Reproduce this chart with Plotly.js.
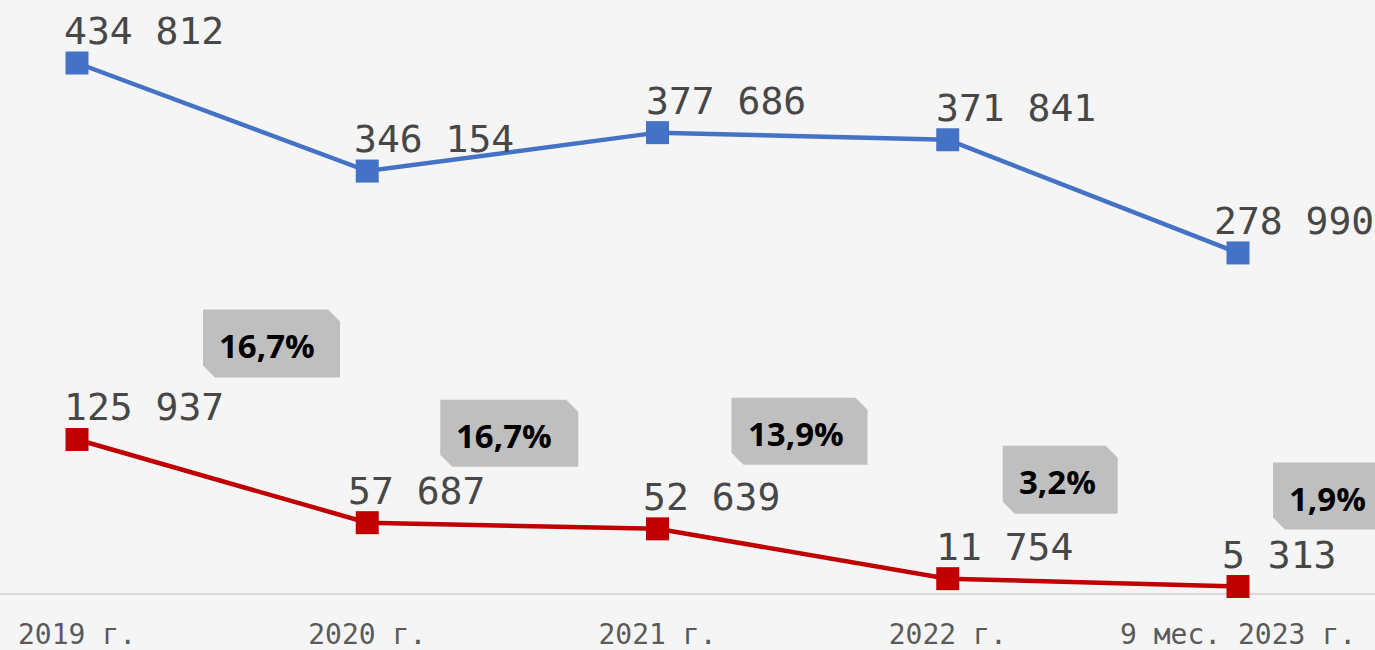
<!DOCTYPE html>
<html>
<head>
<meta charset="utf-8">
<script src="https://cdn.plot.ly/plotly-3.0.1.min.js"></script>
<style>
  html, body { margin: 0; padding: 0; background: #f5f5f5; }
  #chart { width: 1375px; height: 650px; }
</style>
</head>
<body>
<div id="chart"></div>
<script>
// ---- data ----
const categories = ['2019 г.', '2020 г.', '2021 г.', '2022 г.', '9 мес. 2023 г.'];
const totalValues = [434812, 346154, 377686, 371841, 278990];
const subsetValues = [125937, 57687, 52639, 11754, 5313];
const shareLabels = ['16,7%', '16,7%', '13,9%', '3,2%', '1,9%'];

// ---- label placement (pixels, relative to the point) ----
const totalLabelDx = [-15, -15, -14, -14, -26];
const subsetLabelDx = [-15, -21, -17, -14, -18];
// share boxes: [left offset, bottom (up), top (up), width]
const boxGeom = [
  [126, 62, 130, 137],
  [73, 56, 123, 138],
  [74, 64, 131, 136],
  [55, 65, 133, 115],
  [35, 57, 124, 115]
];

const xIdx = categories.map((c, i) => i);
const fmt = v => String(v).replace(/\B(?=(\d{3})+(?!\d))/g, ' ');

const blue = '#4472C4';
const red = '#C00000';

const traces = [
  {
    x: xIdx, y: totalValues, type: 'scatter', mode: 'lines+markers',
    line: { color: blue, width: 4.5 },
    marker: { symbol: 'square', size: 23, color: blue },
    hoverinfo: 'skip', cliponaxis: false
  },
  {
    x: xIdx, y: subsetValues, type: 'scatter', mode: 'lines+markers',
    line: { color: red, width: 4.5 },
    marker: { symbol: 'square', size: 23, color: red },
    hoverinfo: 'skip', cliponaxis: false
  }
];

const labelFont = { family: 'DejaVu Sans Mono', size: 38, color: '#474747' };
const annotations = [];
const shapes = [];

totalValues.forEach((v, i) => {
  annotations.push({
    x: xIdx[i], y: v, xref: 'x', yref: 'y', text: fmt(v), showarrow: false,
    xanchor: 'left', yanchor: 'middle', xshift: totalLabelDx[i], yshift: 32,
    font: labelFont
  });
});
subsetValues.forEach((v, i) => {
  annotations.push({
    x: xIdx[i], y: v, xref: 'x', yref: 'y', text: fmt(v), showarrow: false,
    xanchor: 'left', yanchor: 'middle', xshift: subsetLabelDx[i], yshift: 32,
    font: labelFont
  });
  const [dx, b, t, w] = boxGeom[i];
  const c = 12;
  const x0 = dx, x1 = dx + w;
  shapes.push({
    type: 'path', xref: 'x', yref: 'y',
    xsizemode: 'pixel', ysizemode: 'pixel',
    xanchor: xIdx[i], yanchor: v,
    path: `M ${x0 + c},${b} L ${x1},${b} L ${x1},${t - c} L ${x1 - c},${t} L ${x0},${t} L ${x0},${b + c} Z`,
    fillcolor: '#BFBFBF', line: { width: 0 }, layer: 'above'
  });
  annotations.push({
    x: xIdx[i], y: v, xref: 'x', yref: 'y', text: '<b>' + shareLabels[i] + '</b>', showarrow: false,
    xanchor: 'left', yanchor: 'middle', xshift: dx + 14, yshift: (t + b) / 2 - 2,
    font: { family: 'Open Sans', size: 33, color: '#000000' }
  });
});

const layout = {
  width: 1375, height: 650,
  paper_bgcolor: '#f5f5f5', plot_bgcolor: '#f5f5f5',
  margin: { l: 0, r: 0, t: 0, b: 57 },
  showlegend: false,
  xaxis: {
    range: [-77 / 290.25, 1298 / 290.25],
    tickvals: xIdx, ticktext: categories,
    showgrid: false, zeroline: false,
    showline: true, linecolor: '#d9d9d9', linewidth: 2,
    layer: 'below traces',
    ticks: '', ticklabelstandoff: 15,
    tickfont: { family: 'DejaVu Sans Mono', size: 28, color: '#5a5a5a' },
    fixedrange: true
  },
  yaxis: {
    range: [0, 486500], visible: false, showgrid: false, zeroline: false, fixedrange: true
  },
  annotations: annotations,
  shapes: shapes
};

Plotly.newPlot('chart', traces, layout, { displayModeBar: false, staticPlot: true });
</script>
</body>
</html>
